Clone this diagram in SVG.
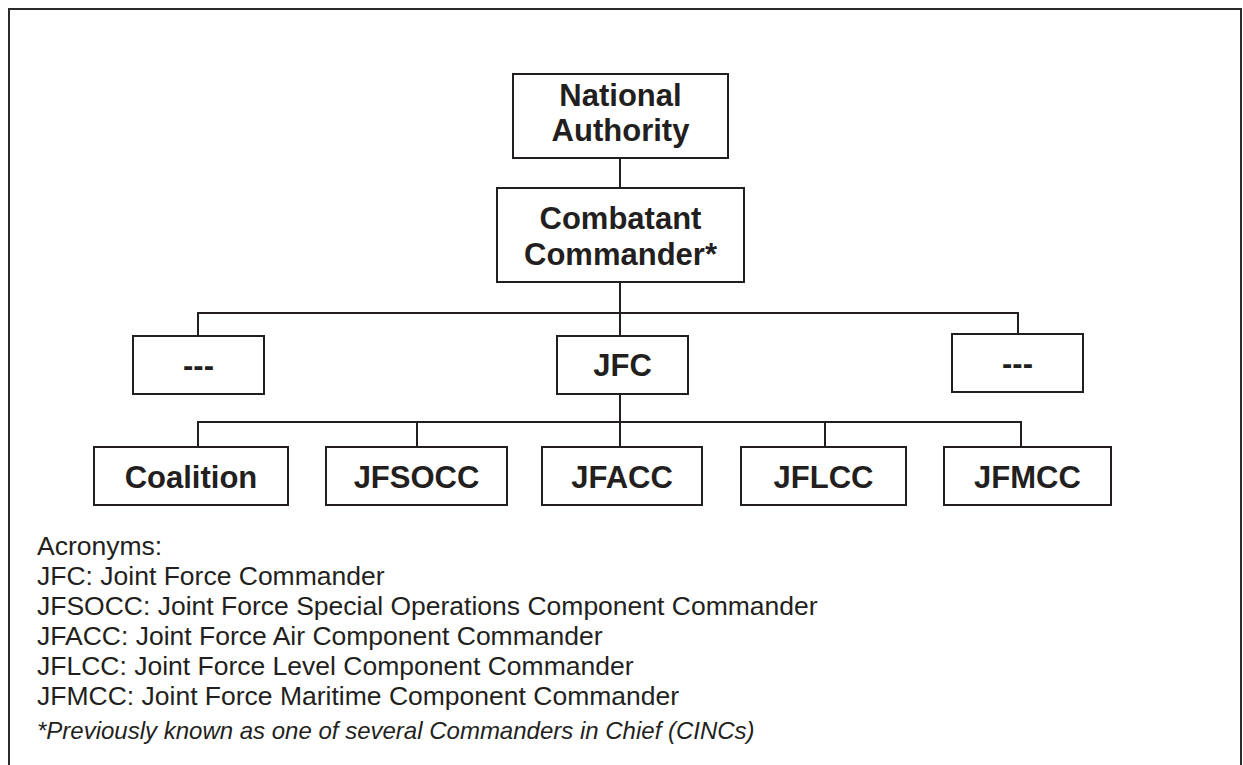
<svg xmlns="http://www.w3.org/2000/svg" width="1243" height="765" viewBox="0 0 1243 765">
  <style>
    .frame { fill: none; stroke: #2b2b2b; stroke-width: 2; }
    .box { fill: #ffffff; stroke: #231f20; stroke-width: 2; }
    .wire { fill: none; stroke: #231f20; stroke-width: 2; }
    .label { font-family: "Liberation Sans", Arial, sans-serif; font-weight: bold; font-size: 31px; fill: #231f20; text-anchor: middle; }
    .note { font-family: "Liberation Sans", Arial, sans-serif; font-size: 26.5px; fill: #231f20; }
    .foot { font-family: "Liberation Sans", Arial, sans-serif; font-size: 24px; font-style: italic; fill: #231f20; }
  </style>

  <rect width="1243" height="765" fill="#ffffff"/>
  <!-- outer frame, open at the bottom -->
  <path class="frame" d="M9,766 V9 H1241 V766"/>

  <!-- connectors -->
  <g id="connectors">
    <path class="wire" d="M620,158 V188"/>
    <path class="wire" d="M620,282 V336"/>
    <path class="wire" d="M198,336 V313 H1018 V334"/>
    <path class="wire" d="M620,394 V447"/>
    <path class="wire" d="M198,447 V422 H1021 V447"/>
    <path class="wire" d="M417,422 V447"/>
    <path class="wire" d="M825,422 V447"/>
  </g>

  <g id="national-authority">
    <rect class="box" x="513" y="74" width="215" height="84"/>
    <text class="label" x="620.5" y="106">National</text>
    <text class="label" x="620.5" y="141">Authority</text>
  </g>

  <g id="combatant-commander">
    <rect class="box" x="497" y="188" width="247" height="94"/>
    <text class="label" x="620.5" y="229">Combatant</text>
    <text class="label" x="620.5" y="265">Commander*</text>
  </g>

  <g id="peer-left">
    <rect class="box" x="133" y="336" width="131" height="58"/>
    <text class="label" x="198.5" y="376">---</text>
  </g>

  <g id="jfc">
    <rect class="box" x="557" y="336" width="131" height="58"/>
    <text class="label" x="622.5" y="376">JFC</text>
  </g>

  <g id="peer-right">
    <rect class="box" x="952" y="334" width="131" height="58"/>
    <text class="label" x="1017.5" y="374">---</text>
  </g>

  <g id="coalition">
    <rect class="box" x="94" y="447" width="194" height="58"/>
    <text class="label" x="191" y="488">Coalition</text>
  </g>

  <g id="jfsocc">
    <rect class="box" x="326" y="447" width="181" height="58"/>
    <text class="label" x="416.5" y="488">JFSOCC</text>
  </g>

  <g id="jfacc">
    <rect class="box" x="542" y="447" width="160" height="58"/>
    <text class="label" x="622" y="488">JFACC</text>
  </g>

  <g id="jflcc">
    <rect class="box" x="741" y="447" width="165" height="58"/>
    <text class="label" x="823.5" y="488">JFLCC</text>
  </g>

  <g id="jfmcc">
    <rect class="box" x="944" y="447" width="167" height="58"/>
    <text class="label" x="1027.5" y="488">JFMCC</text>
  </g>

  <!-- legend -->
  <g id="legend">
    <text class="note" x="37" y="555">Acronyms:</text>
    <text class="note" x="37" y="585">JFC: Joint Force Commander</text>
    <text class="note" x="37" y="615">JFSOCC: Joint Force Special Operations Component Commander</text>
    <text class="note" x="37" y="645">JFACC: Joint Force Air Component Commander</text>
    <text class="note" x="37" y="675">JFLCC: Joint Force Level Component Commander</text>
    <text class="note" x="37" y="705">JFMCC: Joint Force Maritime Component Commander</text>
    <text class="foot" x="37" y="739">*Previously known as one of several Commanders in Chief (CINCs)</text>
  </g>
</svg>
